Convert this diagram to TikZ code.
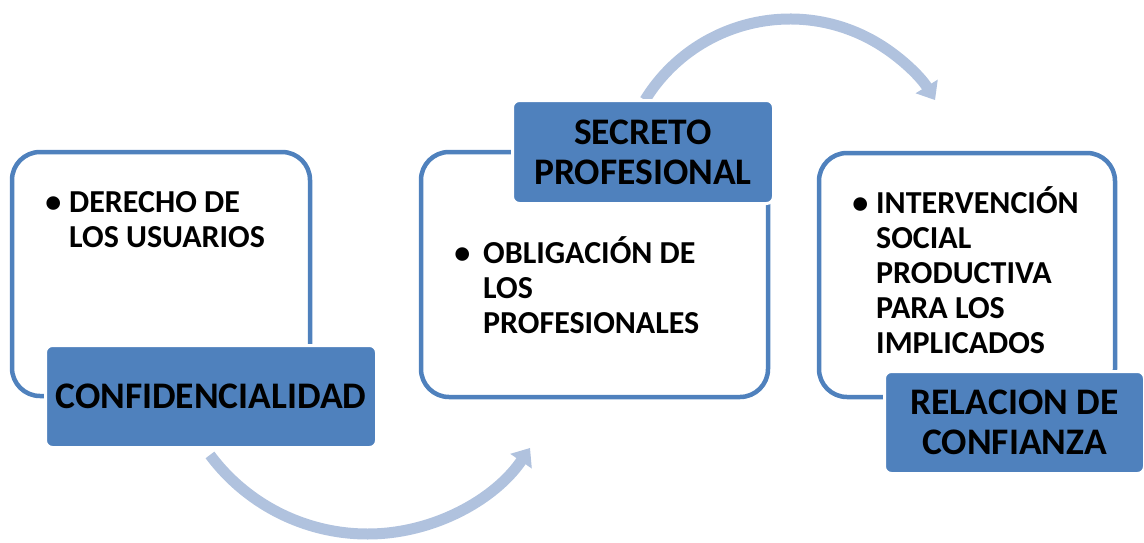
\documentclass[tikz,border=0pt]{standalone}
\usepackage{fontspec}
\setmainfont{Carlito}
\usepackage{tikz}
\usetikzlibrary{positioning}
\usetikzlibrary{calc}
\usetikzlibrary{arrows.meta}

\definecolor{boxblue}{RGB}{79,129,189}
\definecolor{arrowblue}{RGB}{176,194,222}

\tikzset{
  outline/.style={draw=boxblue, line width=4.5pt, rounded corners=28pt, fill=white, inner sep=0pt},
  header/.style={draw=white, line width=3pt, fill=boxblue, rounded corners=7pt, align=center, inner sep=0pt,
    font=\fontsize{37.5}{40}\selectfont\bfseries},
  bodytext/.style={anchor=base west, inner sep=0pt, font=\fontsize{32}{35}\selectfont\bfseries},
  bigarrow/.style={draw=arrowblue, line width=11pt, -{Triangle[width=25pt,length=16pt]}}
}

\begin{document}
\begin{tikzpicture}[x=1pt, y=-1pt]

\useasboundingbox (0,0) rectangle (1144,542);

\coordinate (lowc) at (367.5, 337.5);
\coordinate (topc) at (790, 189.3);

% arrows between the boxes
\draw[bigarrow] ($(lowc)+(143.3:196.5)$) arc[start angle=143.3, end angle=34.2, radius=196.5];
\draw[bigarrow] ($(topc)+(211.6:170.3)$) arc[start angle=211.6, end angle=328.4, radius=170.3];

\node[outline, minimum width=298pt, minimum height=244pt] (usuarios) at (161, 274) {};
\node[outline, minimum width=347pt, minimum height=245pt] (profes) at (594.5, 274.5) {};
\node[outline, minimum width=296pt, minimum height=244pt] (implicados) at (967, 275) {};

\node[bodytext] (derecho) at (69, 212) {\parbox[t]{230pt}{\raggedright\leavevmode\llap{\textbullet\hspace{8pt}}DERECHO DE\\LOS USUARIOS}};
\node[bodytext] (obligacion) at (483, 263) {\parbox[t]{270pt}{\raggedright\leavevmode\llap{\textbullet\hspace{13pt}}OBLIGACIÓN DE\\LOS\\PROFESIONALES}};
\node[bodytext] (intervencion) at (876, 213) {\parbox[t]{230pt}{\raggedright\leavevmode\llap{\textbullet\hspace{8pt}}INTERVENCIÓN\\SOCIAL\\PRODUCTIVA\\PARA LOS\\IMPLICADOS}};

\node[header, minimum width=331pt, minimum height=102pt] (confid) at (211, 396.5) {CONFIDENCIALIDAD};
\node[header, minimum width=261pt, minimum height=103pt] (secreto) at (643, 152) {SECRETO\\PROFESIONAL};
\node[header, minimum width=260pt, minimum height=102pt] (relacion) at (1014.5, 422.5) {RELACION DE\\CONFIANZA};

\end{tikzpicture}
\end{document}
